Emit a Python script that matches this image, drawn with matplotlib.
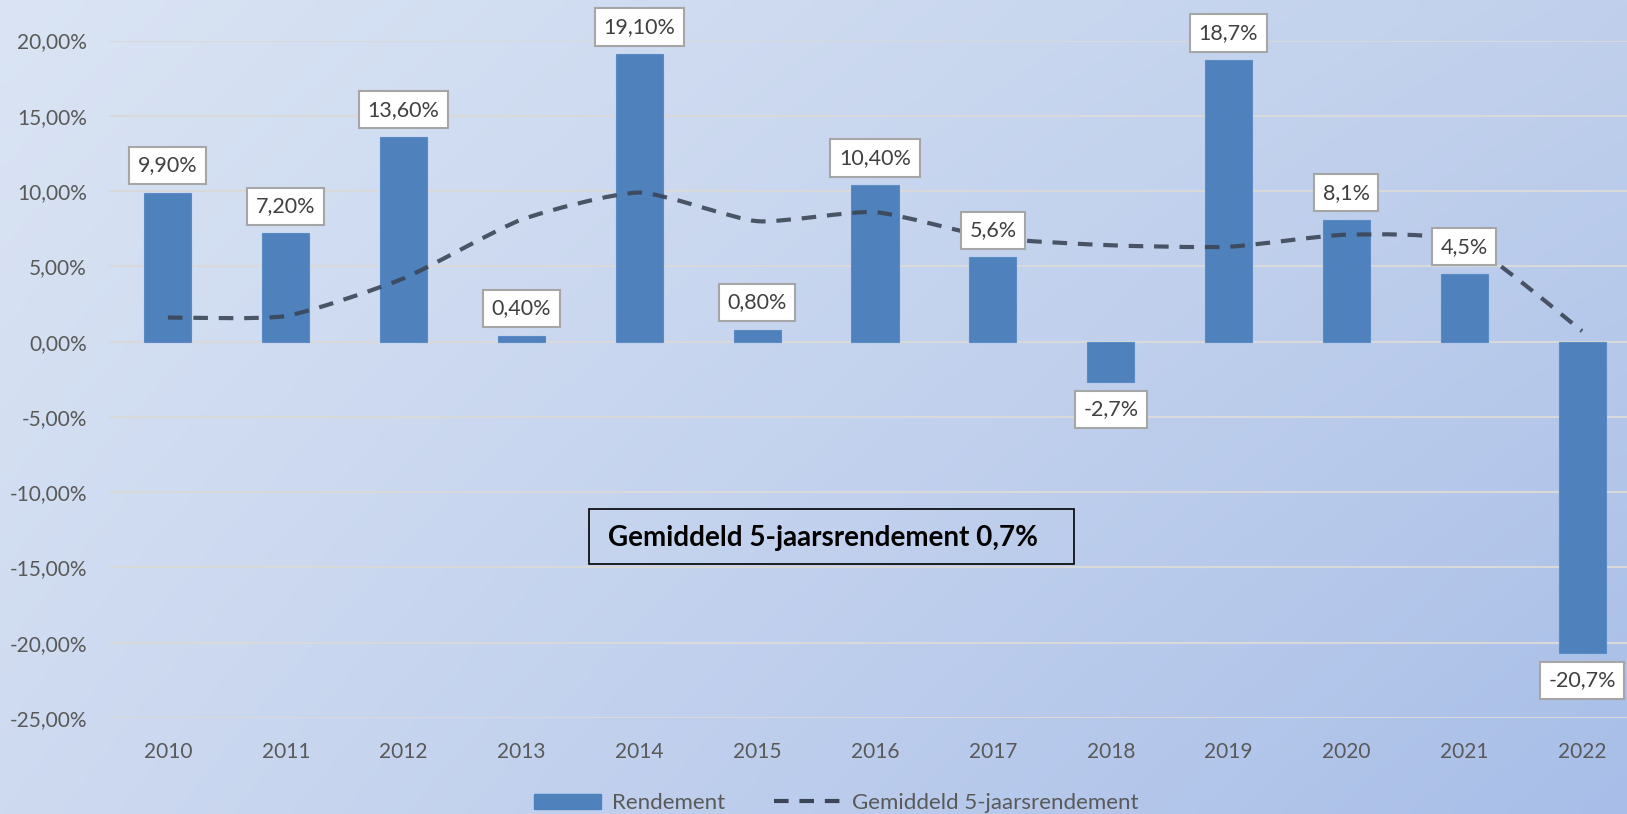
import numpy as np
import matplotlib.pyplot as plt
from matplotlib.path import Path
from matplotlib.patches import PathPatch, Rectangle

plt.rcParams['font.family'] = ['Lato', 'DejaVu Sans']

years = ["2010", "2011", "2012", "2013", "2014", "2015", "2016",
         "2017", "2018", "2019", "2020", "2021", "2022"]
rendement = [9.9, 7.2, 13.6, 0.4, 19.1, 0.8, 10.4, 5.6, -2.7, 18.7, 8.1, 4.5, -20.7]
label_decimals = [2, 2, 2, 2, 2, 2, 2, 1, 1, 1, 1, 1, 1]
gem_5j = [1.6, 1.7, 4.2, 8.1, 9.9, 8.0, 8.6, 6.9, 6.4, 6.3, 7.1, 6.6, 0.7]
yticks = [20, 15, 10, 5, 0, -5, -10, -15, -20, -25]
note = "Gemiddeld 5-jaarsrendement 0,7%"

BAR = "#4f81bd"
LINE = "#3b4656"
GREY = "#595959"

W, H = 1627, 814
fig = plt.figure(figsize=(W / 100, H / 100), dpi=100)

# diagonal gradient background
bg = fig.add_axes([0, 0, 1, 1], zorder=-10)
corners = np.array([[[218, 228, 244], [192, 208, 236]],
                    [[206, 218, 240], [168, 190, 232]]]) / 255.0
u = np.linspace(0, 1, 200)[None, :, None]
v = np.linspace(0, 1, 100)[:, None, None]
grad = ((1 - v) * ((1 - u) * corners[0, 0] + u * corners[0, 1])
        + v * ((1 - u) * corners[1, 0] + u * corners[1, 1]))
bg.imshow(grad, aspect="auto", extent=[0, 1, 0, 1], interpolation="bilinear")
bg.axis("off")

x = np.arange(len(years))
ax = fig.add_axes([109 / W, 1 - 718 / H, (1641 - 109) / W, (718 - 40.5) / H])
ax.patch.set_alpha(0)
ax.set_xlim(-0.5, len(years) - 0.5)
ax.set_ylim(-25, 20)

ax.bar(x, rendement, width=0.4, color=BAR, edgecolor="#5b8bc4", linewidth=0.8, zorder=2)

# smoothed line (cubic Bezier through the points, tighter than Catmull-Rom)
k = 0.1
pts = np.column_stack([x, gem_5j]).astype(float)
verts = [pts[0]]
codes = [Path.MOVETO]
for i in range(len(pts) - 1):
    p0 = pts[max(i - 1, 0)]
    p1, p2 = pts[i], pts[i + 1]
    p3 = pts[min(i + 2, len(pts) - 1)]
    verts += [p1 + (p2 - p0) * k, p2 - (p3 - p1) * k, p2]
    codes += [Path.CURVE4] * 3
ax.add_patch(PathPatch(Path(verts, codes), fill=False, edgecolor=LINE, lw=3,
                       linestyle=(0, (3.5, 2.6)), alpha=0.9, zorder=3))

for xi, val, dec in zip(x, rendement, label_decimals):
    txt = f"{val:.{dec}f}%".replace(".", ",")
    off = 27 if val >= 0 else -27
    ax.annotate(txt, (xi, val), xytext=(0, off), textcoords="offset pixels",
                ha="center", va="center", fontsize=15.5, color="#404040",
                bbox=dict(boxstyle="square,pad=0.4", fc="white", ec="#a6a6a6", lw=1.5),
                zorder=5, annotation_clip=False)

ax.set_yticks(yticks)
ax.set_yticklabels([f"{t:.2f}%".replace(".", ",") for t in yticks])
ax.set_xticks(x)
ax.set_xticklabels(years)
ax.tick_params(axis="y", length=0, pad=16, labelsize=15, labelcolor=GREY)
ax.tick_params(axis="x", length=0, pad=17, labelsize=15, labelcolor=GREY)
ax.grid(axis="y", color="#d9d9d9", lw=1.5, zorder=0)
ax.set_axisbelow(True)
for s in ax.spines.values():
    s.set_visible(False)

# note box
fig.patches.append(Rectangle((589 / W, 1 - 564 / H), (1074 - 589) / W, (564 - 509) / H,
                             transform=fig.transFigure, fill=False, ec="black", lw=1.2))
fig.text(608 / W, 1 - 538 / H, note, fontsize=20, fontweight="bold",
         ha="left", va="center", color="black")

# legend
h_bar = Rectangle((0, 0), 1, 1, color=BAR)
h_line = plt.Line2D([], [], color=LINE, lw=3, linestyle=(0, (3.5, 2.6)))
fig.legend([h_bar, h_line], ["Rendement", "Gemiddeld 5-jaarsrendement"],
           loc="center", bbox_to_anchor=(836 / W, 1 - 803 / H), ncol=2,
           frameon=False, fontsize=16, labelcolor=GREY, handlelength=3.0,
           handleheight=0.65, handletextpad=0.5, columnspacing=2.2)

fig.savefig("out.png", dpi=100)
